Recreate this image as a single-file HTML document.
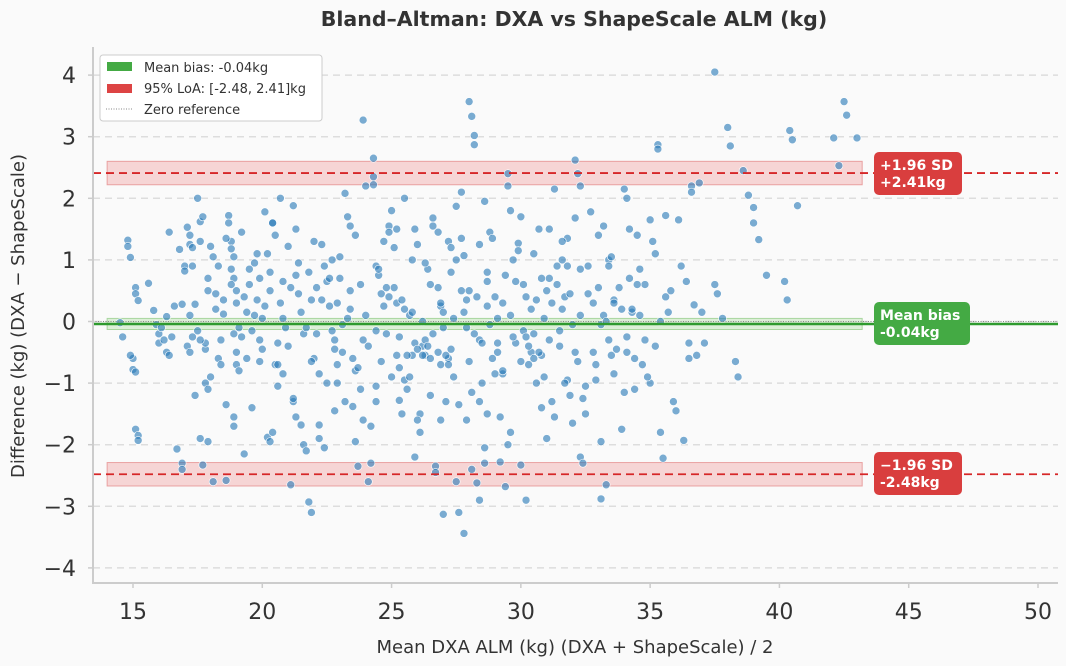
<!DOCTYPE html>
<html><head><meta charset="utf-8">
<style>
html,body{margin:0;padding:0;background:#fafafa;}
svg{display:block;font-family:"DejaVu Sans","Liberation Sans",sans-serif;}
</style></head>
<body>
<svg id="chart" width="1066" height="666" viewBox="0 0 1066 666">
<rect x="0" y="0" width="1066" height="666" fill="#fafafa"/>
<text x="574" y="26" text-anchor="middle" font-size="20.5" font-weight="bold" fill="#333">Bland–Altman: DXA vs ShapeScale ALM (kg)</text>
<g id="grid"></g>
<g id="bands"></g>
<g id="points"></g>
<g id="lines"></g>
<g id="axes"></g>
<text x="575" y="653" text-anchor="middle" font-size="18" fill="#333">Mean DXA ALM (kg) (DXA + ShapeScale) / 2</text>
<text transform="translate(24,316) rotate(-90)" text-anchor="middle" font-size="18" fill="#333">Difference  (kg) (DXA − ShapeScale)</text>
<g>
<rect x="100" y="55" width="222" height="66" rx="3" fill="#fff" stroke="#ccc" stroke-width="1"/>
<rect x="107" y="62" width="25" height="9" fill="#44aa44"/>
<text x="144" y="72" font-size="13" fill="#333">Mean bias: -0.04kg</text>
<rect x="107" y="84" width="25" height="9" fill="#dd4444"/>
<text x="144" y="93" font-size="13" fill="#333">95% LoA: [-2.48, 2.41]kg</text>
<line x1="106" y1="109" x2="133" y2="109" stroke="#888" stroke-width="1" stroke-dasharray="1,1.5"/>
<text x="144" y="114" font-size="13" fill="#333">Zero reference</text>
</g>
<g>
<rect x="874" y="152" width="88" height="43" rx="5" fill="#d93e3e"/>
<text x="880" y="170" font-size="14" font-weight="bold" fill="#fff">+1.96 SD</text>
<text x="880" y="187" font-size="14" font-weight="bold" fill="#fff">+2.41kg</text>
</g>
<g>
<rect x="874" y="302" width="96" height="43" rx="5" fill="#44aa44"/>
<text x="880" y="320" font-size="14" font-weight="bold" fill="#fff">Mean bias</text>
<text x="880" y="337" font-size="14" font-weight="bold" fill="#fff">-0.04kg</text>
</g>
<g>
<rect x="874" y="452" width="88" height="43" rx="5" fill="#d93e3e"/>
<text x="880" y="470" font-size="14" font-weight="bold" fill="#fff">−1.96 SD</text>
<text x="880" y="487" font-size="14" font-weight="bold" fill="#fff">-2.48kg</text>
</g>
</svg>
<script>
const xTicks = [15,20,25,30,35,40,45,50];
const yTicks = [-4,-3,-2,-1,0,1,2,3,4];
const meanBias = -0.04;
const loaUpper = 2.41;
const loaLower = -2.48;
const ptsX = [14.5,14.6,14.8,14.8,14.9,15.0,14.9,15,15.1,15.1,15.1,15.2,15.1,15.2,15.2,15.6,15.8,15.9,16,16,16.2,16.1,16.3,16.4,16.3,16.5,16.8,16.7,16.9,16.9,16.9,17,17.0,17.1,17.2,17.2,17.3,17.1,17.2,17.3,17.4,17.5,17.6,17.6,17.7,17.5,17.6,17.7,17.8,17.9,17.8,17.9,17.9,18,18.1,18,18.1,18.2,18.3,18.4,18.5,18.5,18.6,18.6,18.7,18.7,18.8,18.8,18.9,18.8,18.9,19,19,19.1,19,19,18.9,18.9,19.2,19.3,19.4,19.4,19.5,19.6,19.7,19.8,19.9,19.9,20,20.1,20.2,20.3,20.2,20.3,20.4,20.5,20.4,20.5,20.6,20.7,20.8,20.8,21,21.0,21.1,21.2,21.2,21.3,21.3,21.4,21.5,21.5,21.6,21.7,21.8,21.9,21.8,21.9,22,22.1,22.2,22.2,22.3,22.4,22.5,22.6,22.7,22.8,22.9,22.9,23,23.1,23.2,23.3,23.4,23.4,23.5,23.6,23.6,23.7,23.8,23.9,23.9,24,24.1,24.1,24.2,24.3,24.3,24.3,24.4,24.4,24.5,24.6,24.7,24.8,24.9,24.9,25,25.1,25.2,25.2,25.3,25.3,25.4,25.5,25.5,25.6,25.7,25.8,25.9,25.9,26,26.1,26.1,26.2,26.3,26.4,26.5,26.5,26.6,26.6,26.7,26.7,26.8,26.9,27,27,27.1,27.2,27.2,27.3,27.4,27.5,27.5,27.6,27.7,27.8,27.8,27.9,27.9,28,28.1,28.2,28.2,28.1,28.3,28.4,28.4,28.5,28.6,28.6,28.7,28.7,28.8,28.9,29,29.1,29.2,29.3,29.4,29.4,29.5,29.5,29.6,29.7,29.8,29.9,30,30,30.1,30.2,30.2,30.3,30.4,30.5,30.6,30.7,30.8,30.8,30.9,31,31,31.1,31.2,31.3,31.4,31.5,31.6,31.7,31.8,31.9,32,32.1,32.2,32.3,32.1,32.3,32.4,32.5,32.6,32.7,32.8,32.9,33,33.1,33.1,33.2,33.3,33.4,33.5,33.6,33.8,33.9,34,34.1,34.2,34.3,34.4,34.5,34.6,34.8,35,35.1,35.2,35.3,35.3,35.4,35.5,35.6,35.7,35.9,36,36.1,36.3,36.4,36.5,36.5,36.6,36.6,36.7,36.8,37,37.1,37.5,37.5,37.6,37.8,38,38.1,38.3,38.4,38.6,38.8,39,39,39.2,39.5,40.2,40.3,40.4,40.5,40.7,42.1,42.3,42.5,42.6,43,25.5,26,26.3,26.8,27,27.4,27.9,28.3,28.8,29.3,29.7,30.4,30.9,31.5,31.9,32.3,32.8,33.4,33.9,34.2,34.7,25.8,26.2,27.1,28,29,30.3,24.6,23.9,23.4,22.9,22.1,21.6,20.9,20.3,19.7,19.2,18.4,17.8,17.3,16.6,22.5,23.2,24.7,25.4,26.9,28.4,29.6,31.2,32.5,33.6,34.4,35,24.2,21.3,22.7,28.6,27.3,30.5,31.8,33.4,34.8,36.2,
17.2,17.6,18.2,18.9,19.5,20.1,20.6,21.1,21.7,22.3,22.8,23.3,23.8,24.4,24.9,25.3,25.8,26.4,26.9,27.3,27.7,28.2,28.7,29.1,29.6,30.1,30.6,31.1,31.6,32.1,32.6,33.1,33.6,34.1,34.6,35.2,35.8,18.3,19.1,19.8,20.6,21.4,22.2,23,23.7,24.5,25.1,25.7,26.3,26.9,27.5,28.1,28.7,29.3,29.9,30.5,31.1,31.7,32.3,32.9,33.5,34.1,34.9,16.4,17.4,18.6,19.6,20.4,21.2,22,22.8,23.6,24.4,25.2,26,26.8,27.6,28.4,29.2,30,30.8,31.6,32.4,33.2,34,35.4,17.9,18.8,19.9,20.8,21.9,22.6,23.5,24.8,25.6,26.5,27.2,28,28.9,29.8,30.7,31.4,32.2,33,33.7,34.5,35.6,36.9,19.3,20.7,22.4,24,25.9,27.7,29.5,31.3,33.3,20,23.1,26.2,29.1,32,34.3,26.6,27.8,30.2,31.8,25,28.5];
const ptsY = [-0.02,-0.25,1.32,1.22,1.04,-0.6,-0.55,-0.78,-0.82,0.55,0.45,0.34,-1.75,-1.85,-1.93,0.62,0.18,-0.05,-0.2,-0.35,-0.3,-0.1,-0.5,-0.55,0.08,-0.25,1.17,-2.07,-2.3,-2.4,0.28,0.9,0.82,1.53,1.4,1.25,1.2,-0.4,-0.5,-0.25,0.28,2.0,1.62,1.3,1.7,-0.15,-1.9,-2.33,-1.0,-1.1,-0.45,0.5,0.7,1.22,1.05,-0.9,-2.6,0.2,-0.6,-0.3,0.35,0.12,-1.35,-2.58,1.72,1.6,1.3,1.18,1.05,0.85,0.7,0.5,0.3,-0.1,-0.5,-0.7,-1.55,-1.7,1.45,0.4,0.15,-0.6,0.85,-0.15,0.95,0.35,0.7,-0.3,-0.45,1.78,1.1,0.5,-1.88,-1.95,1.6,1.4,-1.8,-0.7,-1.05,0.3,-0.85,0.05,1.22,-0.4,-2.65,1.88,-1.3,-1.55,0.75,0.45,0.15,-1.68,-2.0,-2.1,-2.93,-3.1,0.8,0.35,-0.6,-0.2,-1.68,-1.9,1.25,0.9,0.65,0.25,-0.15,-0.45,-0.7,-1.0,0.7,-0.5,2.08,1.7,1.55,0.2,-1.38,-1.95,-0.8,-2.35,-1.1,-1.6,3.27,0.1,-0.4,-2.6,-2.3,2.65,2.35,2.22,0.9,-1.05,0.75,0.45,0.25,-0.2,1.55,1.45,1.8,0.55,0.3,-0.55,-0.75,-1.28,0.35,-0.95,2.0,-1.1,0.1,1.0,-0.35,1.5,1.25,-1.5,-1.8,-0.4,-0.55,0.85,-0.6,-1.2,1.68,1.55,-2.35,-2.45,0.55,0.25,-0.1,-3.13,-1.3,-0.6,1.3,0.8,-0.9,-2.6,1.87,-3.1,1.35,-3.44,1.07,0.35,-1.6,3.57,3.33,2.87,3.02,-2.4,-2.62,-2.9,-0.3,-1.0,-2.05,-2.3,0.65,-1.5,1.45,1.35,0.4,-0.5,-2.28,-0.85,-2.68,0.75,2.4,2.2,1.8,1.0,-0.35,1.27,-0.65,-2.33,0.6,-2.9,0.4,-0.7,0.2,-0.2,-1.0,1.5,0.7,-0.55,-0.9,0.5,-1.9,1.5,0.3,-1.55,0.9,-0.4,1.0,0.4,-0.95,-1.2,-1.65,2.62,2.4,2.2,1.68,-2.2,-2.3,-1.5,0.9,1.78,-0.5,-0.95,1.4,-1.95,-2.88,0.1,-2.65,1.0,-0.55,0.35,0.55,-1.75,2.15,2.0,1.5,0.15,-0.6,1.4,0.85,-0.3,1.65,1.3,1.1,2.87,2.8,-1.8,-2.22,1.72,0.15,-1.3,-1.45,1.65,-1.93,0.65,-0.35,-0.6,2.2,2.1,0.27,-0.55,0.15,-0.35,0.6,4.05,0.45,0.05,3.15,2.85,-0.65,-0.9,2.45,2.05,1.85,1.6,1.33,0.75,0.65,0.35,3.1,2.95,1.88,2.98,2.53,3.57,3.35,2.98,0.2,-0.45,-0.3,-0.5,0.15,0.05,-0.1,0.4,-0.05,0.3,-0.25,-0.5,0.05,-0.15,0.45,0.1,0.3,-0.3,0.2,0.7,-0.7,-0.55,-0.55,-0.55,-0.65,-0.85,-0.4,-0.65,-0.3,0.5,0.3,0.55,-0.2,-0.1,0.8,0.1,-0.25,-0.7,-0.35,0.9,0.25,-1.0,-1.3,1.3,-1.5,-1.6,-1.3,-1.8,-1.3,-1.05,-0.85,-1.1,-1.0,-1.7,1.5,1.0,1.95,1.2,1.1,1.35,0.9,0.6,0.9,
0.1,-0.3,0.45,-0.2,0.6,0.25,-0.35,0.55,-0.1,0.35,-0.3,0.05,0.6,-0.15,0.4,-0.25,0.15,-0.4,0.3,-0.45,0.5,-0.2,0.25,-0.35,0.1,-0.15,0.35,-0.3,0.2,-0.5,0.45,-0.05,0.3,-0.25,0.1,-0.4,0.5,0.9,-0.8,1.1,-0.7,0.95,-0.85,1.05,-0.75,0.85,1.2,-0.9,0.95,-0.7,1.0,-1.15,0.8,-0.8,1.15,-0.6,0.7,-1.0,0.85,-0.7,1.05,-0.5,-0.9,1.45,-1.2,1.35,-1.4,1.6,-1.25,1.3,-1.45,1.4,-1.3,1.5,-1.6,1.45,-1.35,1.25,-1.55,1.7,-1.4,1.3,-1.25,1.55,-1.15,0.0,-1.95,0.6,-0.65,0.65,-0.65,0.7,-0.6,0.55,-0.55,0.6,-0.7,0.5,-0.6,0.65,-0.5,0.6,-0.65,0.55,-0.45,0.6,0.4,2.25,-2.15,2.0,-2.05,2.2,-2.2,2.1,-2.0,2.15,0.0,0.05,-0.05,0.0,0.05,-0.05,0.2,-0.2,0.15,-0.25,0.9,-0.9,-0.35];

const NS = "http://www.w3.org/2000/svg";
const X0 = 93, X1 = 1058, Y0 = 583, Y1 = 47;
function sx(v){ return 133 + (v - 15) * 25.857; }
function sy(v){ return 321.5 - v * 61.6; }
function mk(tag, attrs, parent){
  const e = document.createElementNS(NS, tag);
  for (const k in attrs) e.setAttribute(k, attrs[k]);
  parent.appendChild(e);
  return e;
}
const grid = document.getElementById('grid');
const axes = document.getElementById('axes');
const bands = document.getElementById('bands');
const pts = document.getElementById('points');
const lines = document.getElementById('lines');

yTicks.forEach(t => {
  const g = mk('line', {x1:X0, x2:X1, y1:sy(t), y2:sy(t), stroke:'#dddddd', 'stroke-width':1.5, 'stroke-dasharray':'7,5'}, grid);
  
  
  const lb = mk('text', {x:76, y:sy(t)+8, 'text-anchor':'end', 'font-size':22, fill:'#333'}, axes);
  lb.textContent = t < 0 ? '−' + Math.abs(t) : String(t);
  
  
  const tk = mk('line', {x1:X0-5, x2:X0, y1:sy(t), y2:sy(t), stroke:'#ccc', 'stroke-width':1.5}, axes);
  
  
});
xTicks.forEach(t => {
  const lb = mk('text', {x:sx(t), y:619, 'text-anchor':'middle', 'font-size':22, fill:'#333'}, axes);
  lb.textContent = String(t);
  
  
  const tk = mk('line', {x1:sx(t), x2:sx(t), y1:Y0, y2:Y0+5, stroke:'#ccc', 'stroke-width':1.5}, axes);
  
  
});
const sp1 = mk('line', {x1:X0, x2:X0, y1:Y1, y2:Y0+1, stroke:'#cccccc', 'stroke-width':2}, axes);


const sp2 = mk('line', {x1:X0-1, x2:X1, y1:Y0, y2:Y0, stroke:'#cccccc', 'stroke-width':2}, axes);



const bx0 = sx(14), bx1 = sx(43.2);
[[loaUpper,'#f4c4c4','#e9a0a0','upper-loa-band'],[loaLower,'#f4c4c4','#e9a0a0','lower-loa-band'],[meanBias,'#cfe9c8','#a9d6a0','mean-bias-band']].forEach(b => {
  const h = b[2] === '#a9d6a0' ? 0.09 : 0.19;
  const r = mk('rect', {x:bx0, y:sy(b[0]+h), width:bx1-bx0, height:sy(b[0]-h)-sy(b[0]+h), fill:b[1], 'fill-opacity':0.7, stroke:b[2], 'stroke-width':1}, bands);
  
  
});

const n = Math.min(ptsX.length, ptsY.length);
for (let i = 0; i < n; i++) {
  const c = mk('circle', {cx:sx(ptsX[i]), cy:sy(ptsY[i]), r:4, fill:'#2a7ab8', 'fill-opacity':0.62, stroke:'#ffffff', 'stroke-width':0.6}, pts);
  
  
}

const z = mk('line', {x1:X0, x2:X1, y1:sy(0), y2:sy(0), stroke:'#888', 'stroke-width':1, 'stroke-dasharray':'1,1.5'}, lines);


const ml = mk('line', {x1:X0, x2:X1, y1:sy(meanBias), y2:sy(meanBias), stroke:'#2e9a2e', 'stroke-width':2.5}, lines);


const ul = mk('line', {x1:X0, x2:X1, y1:sy(loaUpper), y2:sy(loaUpper), stroke:'#d62728', 'stroke-width':1.8, 'stroke-dasharray':'8,5'}, lines);


const ll = mk('line', {x1:X0, x2:X1, y1:sy(loaLower), y2:sy(loaLower), stroke:'#d62728', 'stroke-width':1.8, 'stroke-dasharray':'8,5'}, lines);


</script>
</body></html>
